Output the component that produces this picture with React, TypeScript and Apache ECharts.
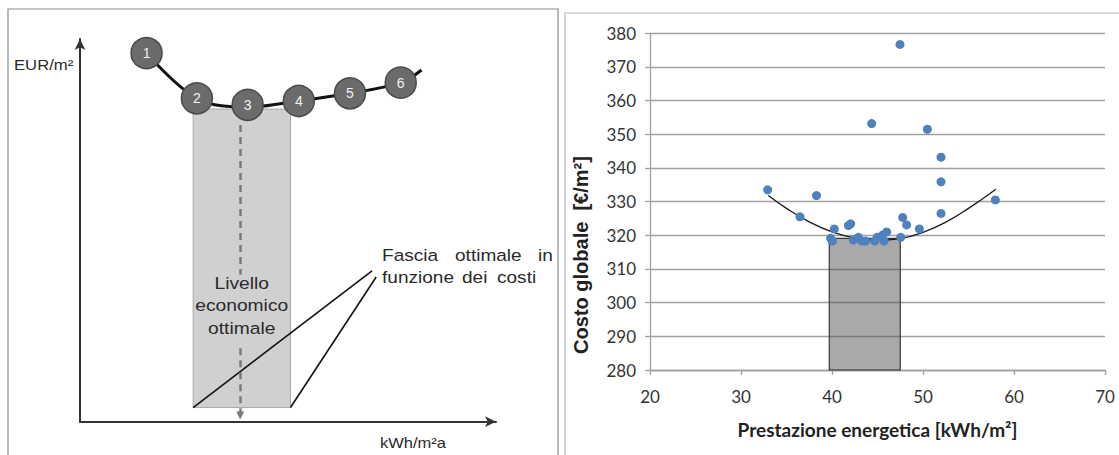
import React, { useEffect, useRef } from "react";
import * as echarts from "echarts";

// ---------- Left panel: conceptual cost-optimal diagram (abstract 0..100 scale) ----------
const optionLabels = ["1", "2", "3", "4", "5", "6"];
const optionX = [16.0, 28.1, 40.3, 52.6, 64.9, 77.1];
const optionY = [96.3, 84.5, 82.8, 83.8, 85.8, 88.6];
const costCurveX = [16.0, 28.1, 40.3, 52.6, 64.9, 77.1, 82.1];
const costCurveY = [96.3, 84.5, 82.2, 83.8, 85.8, 88.6, 91.9];
const optimalRangeX = [27.2, 50.6];
const optimalRangeY = [3.7, 81.7];
const optimumX = 38.5;
const optimumUpperY = [77.5, 38.4];
const optimumLowerY = [19.2, 1.6];
const pointerStartX = [27.2, 50.6];
const pointerStartY = [3.7, 3.7];
const pointerEndX = [70.2, 71.2];
const pointerEndY = [39.4, 37.8];

// ---------- Right panel: global cost vs energy performance ----------
const energyPerformance = [
  32.93, 36.48, 38.3, 39.85, 40.04, 40.25, 41.8, 42.05, 42.35, 42.9, 43.27, 43.7, 44.36, 44.7,
  44.97, 45.57, 45.71, 46.0, 47.47, 47.55, 47.77, 48.2, 49.6, 50.48, 51.98, 51.98, 51.98, 57.95,
];
const globalCost = [
  333.5, 325.5, 331.8, 319.1, 318.3, 321.9, 322.9, 323.4, 318.6, 319.4, 318.3, 318.3, 353.2, 318.3,
  319.4, 320.1, 318.3, 321.0, 376.7, 319.4, 325.3, 323.1, 321.9, 351.5, 343.2, 335.9, 326.5, 330.5,
];
const trendX = [33.0, 35.0, 37.5, 40.0, 42.5, 45.0, 47.5, 50.0, 52.5, 55.0, 58.0];
const trendY = [331.8, 328.0, 324.0, 321.0, 319.2, 318.5, 319.0, 320.9, 323.9, 328.0, 333.7];
const costOptimalBandX = [39.7, 47.5];
const costOptimalBandY = [280, 319.1];
const xMin = 20, xMax = 70, xStep = 10;
const yMin = 280, yMax = 380, yStep = 10;

const HUMAN = "Lato, 'Open Sans', sans-serif";
const SANS = "'Liberation Sans', Arial, sans-serif";

export default function App() {
  const ref = useRef<HTMLDivElement>(null);
  useEffect(() => {
    if (!ref.current) return;
    const chart = echarts.init(ref.current, null, { renderer: "svg" });

    const leftText = (text: string, x: number, y: number, align: string, size: number, sx: number) => ({
      type: "text",
      x,
      y,
      scaleX: sx,
      style: {
        text,
        fill: "#2a2a2a",
        font: `${size}px ${SANS}`,
        textAlign: align,
        textVerticalAlign: "middle",
      },
      z: 20,
    });

    const option: any = {
      animation: false,
      grid: [
        { left: 80, top: 39, width: 416, height: 382.7 },
        { left: 650, top: 33.3, width: 455, height: 336.7 },
      ],
      xAxis: [
        {
          type: "value", gridIndex: 0, min: 0, max: 100,
          axisLine: { show: true, symbol: ["none", "arrow"], symbolSize: [8, 11], lineStyle: { color: "#333", width: 2 } },
          axisTick: { show: false }, axisLabel: { show: false }, splitLine: { show: false },
        },
        {
          type: "value", gridIndex: 1, min: xMin, max: xMax, interval: xStep,
          axisLine: { show: true, lineStyle: { color: "#a0a0a0", width: 1.3 } },
          axisTick: { show: true, length: 5, lineStyle: { color: "#a0a0a0", width: 1.3 } },
          axisLabel: { color: "#333", fontSize: 17, fontFamily: HUMAN, margin: 18 },
          splitLine: { show: false },
          name: "Prestazione energetica [kWh/m²]",
          nameLocation: "middle",
          nameGap: 50,
          nameTextStyle: { color: "#222", fontSize: 19, fontWeight: "bold", fontFamily: HUMAN },
        },
      ],
      yAxis: [
        {
          type: "value", gridIndex: 0, min: 0, max: 100,
          axisLine: { show: true, symbol: ["none", "arrow"], symbolSize: [8, 11], lineStyle: { color: "#333", width: 2 } },
          axisTick: { show: false }, axisLabel: { show: false }, splitLine: { show: false },
        },
        {
          type: "value", gridIndex: 1, min: yMin, max: yMax, interval: yStep,
          axisLine: { show: true, lineStyle: { color: "#a0a0a0", width: 1.3 } },
          axisTick: { show: true, length: 5, lineStyle: { color: "#a0a0a0", width: 1.3 } },
          axisLabel: { color: "#333", fontSize: 17, fontFamily: HUMAN, margin: 14 },
          splitLine: { show: true, lineStyle: { color: "#a0a0a0", width: 1.3 } },
        },
      ],
      series: [
        {
          name: "curve",
          type: "line",
          xAxisIndex: 0, yAxisIndex: 0,
          data: costCurveX.map((x, i) => [x, costCurveY[i]]),
          smooth: 0.35,
          showSymbol: false,
          symbol: "none",
          lineStyle: { color: "#111", width: 3 },
          z: 2,
          silent: true,
        },
        {
          name: "options",
          type: "scatter",
          xAxisIndex: 0, yAxisIndex: 0,
          data: optionX.map((x, i) => [x, optionY[i], optionLabels[i]]),
          symbolSize: 31,
          itemStyle: { color: "#6b6b6b", borderColor: "#4a4a4a", borderWidth: 1.5, opacity: 1 },
          label: {
            show: true, position: "inside", formatter: (p: any) => p.value[2],
            color: "#f2f2f2", fontSize: 14, fontFamily: SANS,
          },
          z: 3,
          silent: true,
        },
        {
          name: "optimalRange",
          type: "line",
          xAxisIndex: 0, yAxisIndex: 0,
          data: [],
          z: 4,
          silent: true,
          markArea: {
            silent: true,
            itemStyle: { color: "rgba(170,170,170,0.55)", borderColor: "#a9a9a9", borderWidth: 1 },
            data: [[
              { coord: [optimalRangeX[0], optimalRangeY[1]] },
              { coord: [optimalRangeX[1], optimalRangeY[0]] },
            ]],
          },
        },
        {
          name: "annotations",
          type: "line",
          xAxisIndex: 0, yAxisIndex: 0,
          data: [],
          z: 5,
          silent: true,
          markLine: {
            silent: true,
            symbol: "none",
            label: { show: false },
            data: [
              ...pointerStartX.map((x, i) => [
                { coord: [x, pointerStartY[i]], lineStyle: { color: "#111", width: 1.6, type: "solid" } },
                { coord: [pointerEndX[i], pointerEndY[i]] },
              ]),
              [
                { coord: [optimumX, optimumUpperY[0]], lineStyle: { color: "#7a7a7a", width: 2.5, type: [7, 5] } },
                { coord: [optimumX, optimumUpperY[1]] },
              ],
              [
                { coord: [optimumX, optimumLowerY[0]], lineStyle: { color: "#7a7a7a", width: 2.5, type: [7, 5] } },
                { coord: [optimumX, optimumLowerY[1]], symbol: "triangle", symbolSize: 8 },
              ],
            ],
          },
        },
        {
          name: "costOptimalBand",
          type: "line",
          xAxisIndex: 1, yAxisIndex: 1,
          data: [],
          z: 1,
          silent: true,
          markArea: {
            silent: true,
            itemStyle: { color: "rgba(80,80,80,0.49)", borderColor: "#3a3a3a", borderWidth: 1.2 },
            data: [[
              { coord: [costOptimalBandX[0], costOptimalBandY[1]] },
              { coord: [costOptimalBandX[1], costOptimalBandY[0]] },
            ]],
          },
        },
        {
          name: "trend",
          type: "line",
          xAxisIndex: 1, yAxisIndex: 1,
          data: trendX.map((x, i) => [x, trendY[i]]),
          smooth: 0.5,
          symbol: "none",
          showSymbol: false,
          lineStyle: { color: "#1a1a1a", width: 1.3 },
          z: 3,
          silent: true,
        },
        {
          name: "configurations",
          type: "scatter",
          xAxisIndex: 1, yAxisIndex: 1,
          data: energyPerformance.map((x, i) => [x, globalCost[i]]),
          symbolSize: 9,
          itemStyle: { color: "#4f81bd", opacity: 1 },
          z: 4,
          silent: true,
        },
      ],
      graphic: [
        { type: "rect", shape: { x: 8, y: 9, width: 550, height: 470 }, style: { fill: "none", stroke: "#8c8c8c", lineWidth: 1.2 }, z: 0, silent: true },
        { type: "rect", shape: { x: 565, y: 13, width: 570, height: 470 }, style: { fill: "none", stroke: "#b5b5b5", lineWidth: 1.2 }, z: 0, silent: true },
        {
          type: "text",
          x: 581,
          y: 255,
          rotation: Math.PI / 2,
          style: {
            text: "Costo globale  [€/m²]",
            fill: "#222",
            font: `bold 20px ${SANS}`,
            textAlign: "center",
            textVerticalAlign: "middle",
          },
          z: 20,
          silent: true,
        },
        leftText("EUR/m²", 14, 65, "left", 14.5, 1.15),
        leftText("kWh/m²a", 380, 443, "left", 14, 1.18),
        leftText("Livello", 241.7, 283.3, "center", 16.3, 1.18),
        leftText("economico", 241.7, 306, "center", 16.3, 1.18),
        leftText("ottimale", 241.7, 328.3, "center", 16.3, 1.18),
        leftText("Fascia", 382, 255, "left", 16.3, 1.17),
        leftText("ottimale", 455, 255, "left", 16.3, 1.17),
        leftText("in", 538, 255, "left", 16.3, 1.17),
        leftText("funzione", 382, 277, "left", 16.3, 1.17),
        leftText("dei", 462, 277, "left", 16.3, 1.17),
        leftText("costi", 497, 277, "left", 16.3, 1.17),
      ],
    };

    chart.setOption(option);
    return () => chart.dispose();
  }, []);

  return <div ref={ref} style={{ position: "absolute", left: 0, top: 0, width: 1119, height: 455, background: "#fff" }} />;
}
